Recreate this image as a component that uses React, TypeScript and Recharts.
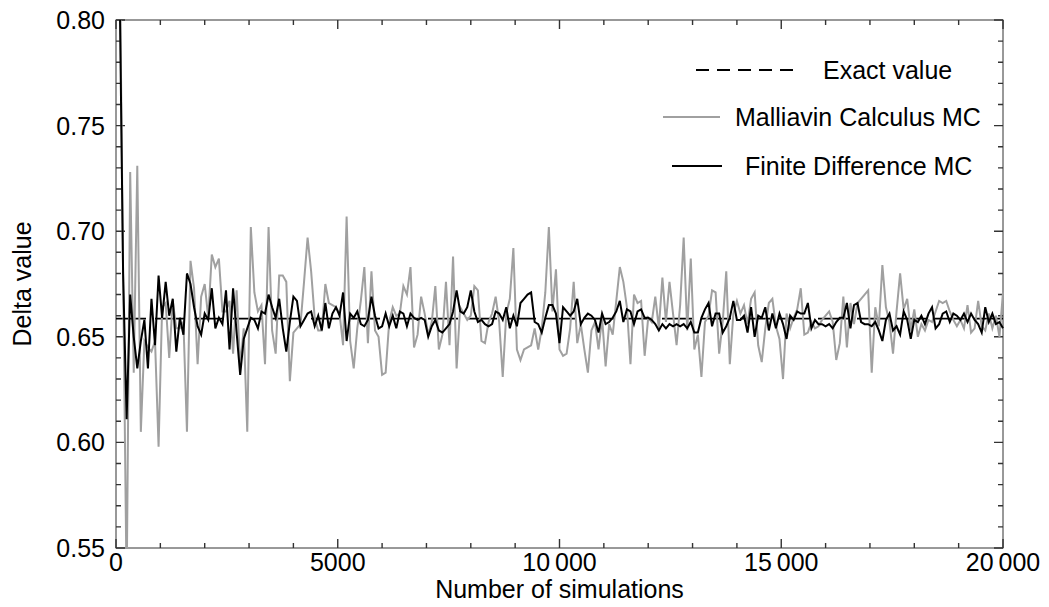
import React from "react";
import {
  LineChart,
  Line,
  XAxis,
  YAxis,
  ReferenceLine,
  ReferenceArea,
  Legend,
} from "recharts";

// simulations between two consecutive estimates
const simStep = 80;

const exactValue = 0.6586;

// Malliavin calculus Monte Carlo estimates (grey line)
const malliavin = [
  0.84, 0.68, 0.53, 0.728, 0.633, 0.731, 0.605, 0.648, 0.645, 0.643,
  0.648, 0.598, 0.664, 0.666, 0.64, 0.667, 0.654, 0.654, 0.657, 0.605,
  0.686, 0.673, 0.637, 0.669, 0.675, 0.659, 0.689, 0.683, 0.687, 0.662,
  0.662, 0.667, 0.642, 0.672, 0.636, 0.654, 0.605, 0.702, 0.671, 0.662,
  0.665, 0.637, 0.702, 0.653, 0.642, 0.679, 0.679, 0.676, 0.629, 0.652,
  0.654, 0.656, 0.676, 0.697, 0.681, 0.659, 0.653, 0.653, 0.675, 0.666,
  0.665, 0.664, 0.661, 0.646, 0.707, 0.648, 0.635, 0.654, 0.667, 0.683,
  0.647, 0.681, 0.653, 0.65, 0.632, 0.633, 0.657, 0.664, 0.66, 0.661,
  0.674, 0.67, 0.683, 0.645, 0.651, 0.669, 0.661, 0.651, 0.657, 0.674,
  0.644, 0.651, 0.676, 0.646, 0.688, 0.635, 0.664, 0.661, 0.658, 0.66,
  0.674, 0.672, 0.648, 0.647, 0.657, 0.661, 0.669, 0.657, 0.631, 0.661,
  0.668, 0.692, 0.644, 0.639, 0.644, 0.645, 0.646, 0.654, 0.644, 0.654,
  0.671, 0.702, 0.662, 0.682, 0.644, 0.641, 0.642, 0.654, 0.676, 0.647,
  0.656, 0.644, 0.633, 0.653, 0.657, 0.644, 0.659, 0.636, 0.656, 0.651,
  0.667, 0.683, 0.676, 0.664, 0.637, 0.67, 0.666, 0.667, 0.641, 0.659,
  0.657, 0.669, 0.654, 0.678, 0.657, 0.676, 0.661, 0.646, 0.665, 0.697,
  0.653, 0.687, 0.644, 0.651, 0.631, 0.657, 0.66, 0.672, 0.671, 0.642,
  0.657, 0.681, 0.637, 0.661, 0.667, 0.661, 0.665, 0.656, 0.668, 0.671,
  0.646, 0.638, 0.654, 0.666, 0.668, 0.655, 0.649, 0.63, 0.661, 0.654,
  0.659, 0.663, 0.673, 0.651, 0.652, 0.657, 0.654, 0.655, 0.658, 0.66,
  0.662, 0.657, 0.639, 0.647, 0.669, 0.645, 0.666, 0.656, 0.666, 0.668,
  0.67, 0.672, 0.633, 0.664, 0.655, 0.684, 0.664, 0.657, 0.642, 0.662,
  0.68, 0.663, 0.668, 0.653, 0.663, 0.65, 0.656, 0.653, 0.658, 0.657,
  0.662, 0.667, 0.666, 0.667, 0.662, 0.658, 0.655, 0.658, 0.654, 0.665,
  0.652, 0.654, 0.667, 0.655, 0.653, 0.661, 0.654, 0.66, 0.65, 0.671,
];

// finite difference Monte Carlo estimates (black line)
const finiteDiff = [
  0.82, 0.68, 0.611, 0.67, 0.65, 0.635, 0.648, 0.658, 0.635, 0.668,
  0.646, 0.679, 0.659, 0.676, 0.66, 0.668, 0.643, 0.659, 0.651, 0.68,
  0.675, 0.664, 0.655, 0.651, 0.661, 0.658, 0.673, 0.654, 0.659, 0.656,
  0.672, 0.644, 0.673, 0.652, 0.632, 0.649, 0.654, 0.659, 0.658, 0.654,
  0.662, 0.661, 0.67, 0.664, 0.659, 0.668, 0.654, 0.643, 0.657, 0.669,
  0.667, 0.655, 0.658, 0.661, 0.662, 0.655, 0.66, 0.653, 0.666, 0.654,
  0.661, 0.664, 0.66, 0.671, 0.648, 0.661, 0.659, 0.662, 0.656, 0.655,
  0.658, 0.669, 0.66, 0.654, 0.655, 0.661, 0.655, 0.66, 0.654, 0.662,
  0.661, 0.655, 0.661, 0.659, 0.658, 0.659, 0.658, 0.65, 0.655, 0.658,
  0.653, 0.652, 0.654, 0.656, 0.662, 0.672, 0.662, 0.661, 0.664, 0.672,
  0.662, 0.657, 0.658, 0.656, 0.655, 0.656, 0.662, 0.661, 0.658, 0.664,
  0.654, 0.66, 0.655, 0.666, 0.668, 0.67, 0.671, 0.657, 0.656, 0.652,
  0.659, 0.665, 0.665, 0.661, 0.647, 0.664, 0.662, 0.66, 0.662, 0.668,
  0.656, 0.659, 0.661, 0.66, 0.658, 0.652, 0.661, 0.656, 0.657, 0.659,
  0.662, 0.667, 0.657, 0.663, 0.662, 0.656, 0.662, 0.663, 0.659, 0.659,
  0.658, 0.656, 0.653, 0.656, 0.654, 0.656, 0.655, 0.656, 0.655, 0.656,
  0.654, 0.657, 0.652, 0.652, 0.659, 0.663, 0.666, 0.655, 0.661, 0.661,
  0.652, 0.655, 0.659, 0.667, 0.658, 0.658, 0.66, 0.652, 0.664, 0.65,
  0.66, 0.659, 0.664, 0.653, 0.661, 0.654, 0.661, 0.656, 0.649, 0.66,
  0.658, 0.662, 0.661, 0.661, 0.666, 0.654, 0.658, 0.656, 0.656, 0.655,
  0.656, 0.654, 0.657, 0.659, 0.659, 0.666, 0.654, 0.665, 0.666, 0.657,
  0.656, 0.656, 0.655, 0.657, 0.653, 0.648, 0.658, 0.661, 0.653, 0.655,
  0.651, 0.662, 0.658, 0.649, 0.658, 0.657, 0.66, 0.656, 0.661, 0.664,
  0.654, 0.656, 0.661, 0.662, 0.657, 0.661, 0.66, 0.658, 0.661, 0.657,
  0.661, 0.658, 0.656, 0.652, 0.664, 0.657, 0.661, 0.656, 0.657, 0.654,
];

const xTicks = [
  0, 1000, 2000, 3000, 4000, 5000, 6000, 7000, 8000, 9000, 10000,
  11000, 12000, 13000, 14000, 15000, 16000, 17000, 18000, 19000, 20000,
];
const xMajor: Record<number, string> = {
  0: "0",
  5000: "5000",
  10000: "10\u2009000",
  15000: "15\u2009000",
  20000: "20\u2009000",
};

const yTicks = [
  0.55, 0.56, 0.57, 0.58, 0.59, 0.6, 0.61, 0.62, 0.63, 0.64, 0.65, 0.66,
  0.67, 0.68, 0.69, 0.7, 0.71, 0.72, 0.73, 0.74, 0.75, 0.76, 0.77, 0.78,
  0.79, 0.8,
];
const yMajor = ["0.55", "0.60", "0.65", "0.70", "0.75", "0.80"];

const legendItems = [
  { label: "Exact value", color: "#000", dash: "13 8", line: 101, lineLeft: 696, textLeft: 823, y: 70 },
  { label: "Malliavin Calculus MC", color: "#a0a0a0", dash: undefined, line: 57, lineLeft: 663, textLeft: 735, y: 117 },
  { label: "Finite Difference MC", color: "#000", dash: undefined, line: 50, lineLeft: 672, textLeft: 745, y: 166 },
];

const data = malliavin.map((m, i) => ({
  n: (i + 1) * simStep,
  malliavin: m,
  finite: finiteDiff[i],
}));

const X_DOMAIN: [number, number] = [0, 20000];
const Y_DOMAIN: [number, number] = [0.55, 0.8];

const FONT = "'Liberation Sans', Arial, Helvetica, sans-serif";
const FS = 25;
const FRAME = "#333";
const W = 1049;
const H = 607;
const MARGIN = { top: 20, right: 46, bottom: 0, left: 0 };
const Y_AXIS_W = 116;
const X_AXIS_H = 59;
const MAJOR = 9;
const MINOR = 5;
const TICK_W = 1.4;

const isMajorY = (v: number) => yMajor.includes(v.toFixed(2));

function XTick(props: any) {
  const { x, y, payload } = props;
  const label = xMajor[payload.value];
  if (label === undefined) return <g />;
  return (
    <text x={x} y={y + 23} textAnchor="middle" fontSize={FS} fontFamily={FONT} fill="#000">
      {label}
    </text>
  );
}

function YTick(props: any) {
  const { x, y, payload } = props;
  if (!isMajorY(payload.value)) return <g />;
  return (
    <text x={x - 11} y={y + 9} textAnchor="end" fontSize={FS} fontFamily={FONT} fill="#000">
      {payload.value.toFixed(2)}
    </text>
  );
}

// Mathematica-style frame: the reference area spans the whole domain, so its
// pixel rectangle gives the mapping used to place the inward ticks
function FrameShape(p: any) {
  const x = Math.min(p.x, p.x + p.width);
  const y = Math.min(p.y, p.y + p.height);
  const w = Math.abs(p.width);
  const h = Math.abs(p.height);
  const parts: string[] = [];
  xTicks.forEach((t) => {
    const px = x + ((t - X_DOMAIN[0]) / (X_DOMAIN[1] - X_DOMAIN[0])) * w;
    const len = xMajor[t] !== undefined ? MAJOR : MINOR;
    parts.push(`M${px},${y + h}L${px},${y + h - len}`);
    parts.push(`M${px},${y}L${px},${y + len}`);
  });
  yTicks.forEach((v) => {
    const py = y + h - ((v - Y_DOMAIN[0]) / (Y_DOMAIN[1] - Y_DOMAIN[0])) * h;
    const len = isMajorY(v) ? MAJOR : MINOR;
    parts.push(`M${x},${py}L${x + len},${py}`);
    parts.push(`M${x + w},${py}L${x + w - len},${py}`);
  });
  return (
    <g>
      <rect x={x} y={y} width={w} height={h} fill="none" stroke={FRAME} strokeWidth={1} />
      <path d={parts.join("")} fill="none" stroke={FRAME} strokeWidth={TICK_W} />
    </g>
  );
}

function renderLegend() {
  return (
    <div style={{ position: "relative", width: W, height: 200, fontFamily: FONT }}>
      {legendItems.map((item) => (
        <React.Fragment key={item.label}>
          <svg
            width={item.line}
            height={4}
            style={{ position: "absolute", left: item.lineLeft, top: item.y - 2 }}
          >
            <line
              x1={0}
              y1={2}
              x2={item.line}
              y2={2}
              stroke={item.color}
              strokeWidth={2}
              strokeDasharray={item.dash}
            />
          </svg>
          <div
            style={{
              position: "absolute",
              left: item.textLeft,
              top: item.y - 15,
              fontSize: FS,
              lineHeight: "30px",
              whiteSpace: "nowrap",
              color: "#000",
            }}
          >
            {item.label}
          </div>
        </React.Fragment>
      ))}
    </div>
  );
}

export default function App() {
  return (
    <div style={{ position: "absolute", left: 0, top: 0, width: W, height: H, background: "#fff" }}>
      <LineChart width={W} height={H} data={data} margin={MARGIN}>
        <XAxis
          dataKey="n"
          type="number"
          domain={X_DOMAIN}
          ticks={xTicks}
          interval={0}
          height={X_AXIS_H}
          tickSize={0}
          tickMargin={0}
          axisLine={false}
          tickLine={false}
          tick={<XTick />}
        />
        <YAxis
          type="number"
          domain={Y_DOMAIN}
          allowDataOverflow
          ticks={yTicks}
          interval={0}
          width={Y_AXIS_W}
          tickSize={0}
          tickMargin={0}
          axisLine={false}
          tickLine={false}
          tick={<YTick />}
        />
        <ReferenceArea
          x1={X_DOMAIN[0]}
          x2={X_DOMAIN[1]}
          y1={Y_DOMAIN[0]}
          y2={Y_DOMAIN[1]}
          fill="none"
          fillOpacity={0}
          stroke={FRAME}
          strokeWidth={1}
          ifOverflow="visible"
          shape={FrameShape}
        />
        <ReferenceLine
          y={exactValue}
          stroke="#000"
          strokeWidth={1.6}
          strokeDasharray="30 9"
          ifOverflow="hidden"
        />
        <Line
          type="linear"
          dataKey="malliavin"
          stroke="#a0a0a0"
          strokeWidth={2}
          dot={false}
          isAnimationActive={false}
        />
        <Line
          type="linear"
          dataKey="finite"
          stroke="#000"
          strokeWidth={2}
          dot={false}
          isAnimationActive={false}
        />
        <Legend
          layout="horizontal"
          verticalAlign="middle"
          align="center"
          wrapperStyle={{ left: 0, top: 0, width: W, height: 200 }}
          content={renderLegend}
        />
      </LineChart>
      <div
        style={{
          position: "absolute",
          left: 0,
          top: 574,
          width: 1119,
          textAlign: "center",
          fontFamily: FONT,
          fontSize: FS,
          lineHeight: "30px",
          color: "#000",
        }}
      >
        Number of simulations
      </div>
      <div
        style={{
          position: "absolute",
          left: 22,
          top: 284,
          transform: "translate(-50%, -50%) rotate(-90deg)",
          fontFamily: FONT,
          fontSize: FS,
          lineHeight: "30px",
          whiteSpace: "nowrap",
          color: "#000",
        }}
      >
        Delta value
      </div>
    </div>
  );
}
